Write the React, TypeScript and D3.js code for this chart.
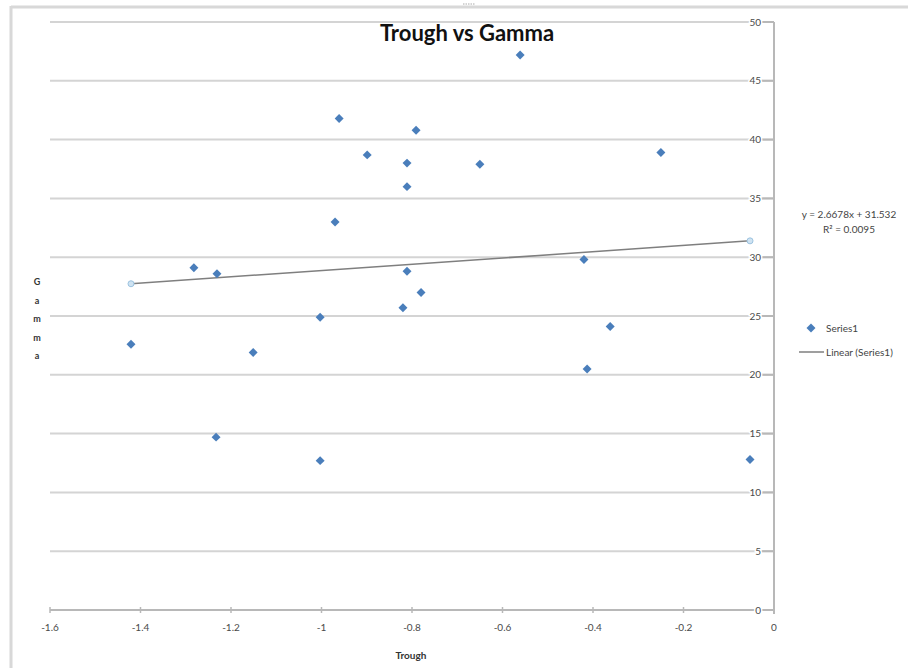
import React from "react";
import * as d3 from "d3";

const troughValues = [
  -0.561, -0.961, -0.791, -0.899, -0.811, -0.65, -0.25, -0.811, -0.97, -1.282,
  -1.231, -0.811, -0.42, -0.78, -0.82, -1.003, -0.362, -1.421, -1.151, -0.413,
  -1.233, -1.003, -0.053,
];
const gammaValues = [
  47.2, 41.8, 40.8, 38.7, 38.0, 37.9, 38.9, 36.0, 33.0, 29.1,
  28.6, 28.8, 29.8, 27.0, 25.7, 24.9, 24.1, 22.6, 21.9, 20.5,
  14.7, 12.7, 12.8,
];
const xTicks = [-1.6, -1.4, -1.2, -1, -0.8, -0.6, -0.4, -0.2, 0];
const yTicks = [0, 5, 10, 15, 20, 25, 30, 35, 40, 45, 50];
const slope = 2.6678;
const intercept = 31.532;
const title = "Trough vs Gamma";
const xTitle = "Trough";
const yTitleLetters = ["G", "a", "m", "m", "a"];
const equationLines = ["y = 2.6678x + 31.532", "R² = 0.0095"];
const legendLabels = ["Series1", "Linear (Series1)"];

const W = 908;
const H = 668;
const BLUE = "#4a7ebb";
const GRID = "#d4d4d4";
const TXT = "#4a4a4a";
const FONT = "Lato, 'Open Sans', sans-serif";

export default function App() {
  const x = d3.scaleLinear().domain([-1.6, 0]).range([50, 774]);
  const y = d3.scaleLinear().domain([0, 50]).range([610, 22]);
  const diamond = d3.symbol().type(d3.symbolSquare).size(40)() as string;
  const xMin = d3.min(troughValues) as number;
  const xMax = d3.max(troughValues) as number;
  const t0 = { x: x(xMin), y: y(slope * xMin + intercept) };
  const t1 = { x: x(xMax), y: y(slope * xMax + intercept) };

  return (
    <div style={{ position: "fixed", left: 0, top: 0, width: W, height: H, background: "#fff" }}>
      <svg width={W} height={H} style={{ display: "block" }}>
        <rect width={W} height={H} fill="#fff" />
        {/* outer frame */}
        <line x1={11} y1={7} x2={W} y2={7} stroke="#d8d8d8" strokeWidth={3} />
        <line x1={11} y1={6} x2={11} y2={H} stroke="#d8d8d8" strokeWidth={3} />
        <line x1={463} y1={4} x2={475} y2={4} stroke="#aaa" strokeWidth={1} strokeDasharray="1.5 1" />

        {/* gridlines */}
        {yTicks.map((t) => (
          <line key={"g" + t} x1={x(-1.6)} x2={x(0)} y1={y(t)} y2={y(t)} stroke={t === 0 ? "#b8b8b8" : GRID} strokeWidth={2} />
        ))}
        {/* y axis */}
        <line x1={x(0)} x2={x(0)} y1={y(50)} y2={y(0) + 4} stroke="#b8b8b8" strokeWidth={2} />
        {yTicks.map((t) => (
          <line key={"yt" + t} x1={x(0) - 12} x2={x(0)} y1={y(t)} y2={y(t)} stroke="#b8b8b8" strokeWidth={2} />
        ))}
        {yTicks.map((t) => (
          <text
            key={"yl" + t}
            x={x(0) - 13}
            y={y(t)}
            dy="0.35em"
            textAnchor="end"
            fontFamily={FONT}
            fontSize={10}
            fill={TXT}
            stroke="#fff"
            strokeWidth={3}
            paintOrder="stroke"
          >
            {t}
          </text>
        ))}
        {/* x axis ticks */}
        {xTicks.map((t) => (
          <line key={"xt" + t} x1={x(t)} x2={x(t)} y1={y(0) - 3} y2={y(0) + 3} stroke="#b8b8b8" strokeWidth={1.5} />
        ))}
        {xTicks.map((t) => (
          <text key={"xl" + t} x={x(t)} y={627} dy="0.35em" textAnchor="middle" fontFamily={FONT} fontSize={10} fill={TXT}>
            {String(t)}
          </text>
        ))}

        {/* trendline */}
        <line x1={t0.x} y1={t0.y} x2={t1.x} y2={t1.y} stroke="#7f7f7f" strokeWidth={1.5} />
        <circle cx={t0.x} cy={t0.y} r={3} fill="#cfe3f2" stroke="#9cc3e0" strokeWidth={1} />
        <circle cx={t1.x} cy={t1.y} r={3} fill="#cfe3f2" stroke="#9cc3e0" strokeWidth={1} />

        {/* points */}
        {troughValues.map((tv, i) => (
          <path key={"p" + i} d={diamond} transform={`translate(${x(tv)},${y(gammaValues[i])}) rotate(45)`} fill={BLUE} />
        ))}

        {/* title */}
        <text x={467} y={41} textAnchor="middle" fontFamily={FONT} fontWeight="bold" fontSize={22} fill="#111">
          {title}
        </text>
        {/* axis titles */}
        <text x={411} y={655} dy="0.35em" textAnchor="middle" fontFamily={FONT} fontWeight="bold" fontSize={10} fill="#333">
          {xTitle}
        </text>
        {yTitleLetters.map((c, i) => (
          <text key={"yt" + i} x={37} y={282 + i * 18.5} dy="0.35em" textAnchor="middle" fontFamily={FONT} fontWeight="bold" fontSize={9} fill="#333">
            {c}
          </text>
        ))}

        {/* equation */}
        {equationLines.map((s, i) => (
          <text key={"eq" + i} x={849} y={214 + i * 15} dy="0.35em" textAnchor="middle" fontFamily={FONT} fontSize={10} fill="#444">
            {s}
          </text>
        ))}

        {/* legend */}
        <path d={diamond} transform="translate(811,328) rotate(45)" fill={BLUE} />
        <text x={826} y={328} dy="0.35em" fontFamily={FONT} fontSize={10} fill="#444">
          {legendLabels[0]}
        </text>
        <line x1={799} x2={824} y1={352} y2={352} stroke="#7f7f7f" strokeWidth={1.5} />
        <text x={826} y={352} dy="0.35em" fontFamily={FONT} fontSize={10} fill="#444">
          {legendLabels[1]}
        </text>
      </svg>
    </div>
  );
}
